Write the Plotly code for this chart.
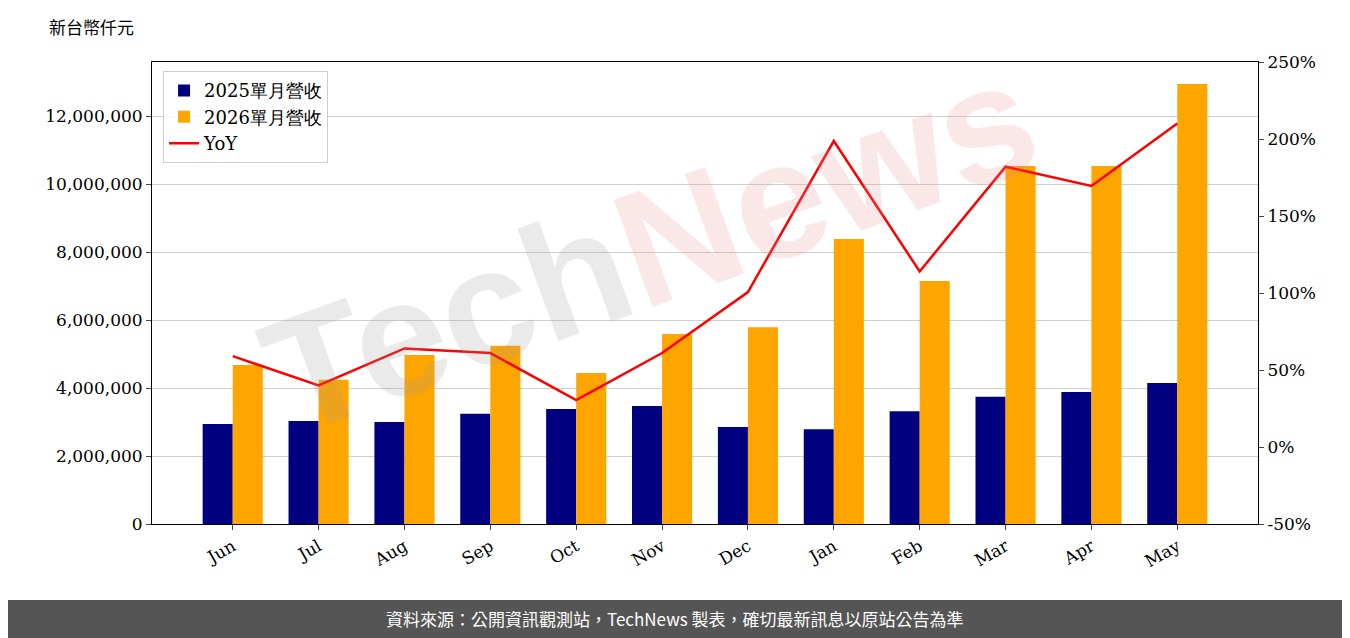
import plotly.graph_objects as go

months = ["Jun", "Jul", "Aug", "Sep", "Oct", "Nov", "Dec", "Jan", "Feb", "Mar", "Apr", "May"]
rev_2025 = [2940000, 3030000, 3000000, 3240000, 3380000, 3470000, 2850000, 2790000, 3320000, 3740000, 3880000, 4150000]
rev_2026 = [4680000, 4240000, 4970000, 5240000, 4440000, 5590000, 5790000, 8380000, 7150000, 10530000, 10530000, 12940000]
yoy = [59, 40, 64, 61, 30.5, 61, 100.6, 198.7, 114, 182, 169.5, 210]
yoy_ticks = [-50, 0, 50, 100, 150, 200, 250]

serif = "DejaVu Serif"

fig = go.Figure()
fig.add_trace(go.Bar(x=months, y=rev_2025, name="2025單月營收", marker_color="#000080", marker_line_width=0))
fig.add_trace(go.Bar(x=months, y=rev_2026, name="2026單月營收", marker_color="#FFA500", marker_line_width=0))
fig.add_trace(go.Scatter(x=months, y=yoy, name="YoY", mode="lines",
                         line=dict(color="#FF0000", width=2.5), yaxis="y2"))

# page body has an 8px margin, so shrink the figure to land on the same pixels
fig.update_layout(
    width=1342, height=630,
    margin=dict(l=144, r=92, t=54, b=114),
    plot_bgcolor="white", paper_bgcolor="white",
    font=dict(family=serif, size=17, color="black"),
    barmode="group", bargap=0.3, bargroupgap=0,
    showlegend=True,
    legend=dict(x=0.01, y=0.98, xanchor="left", yanchor="top", tracegroupgap=4,
                bordercolor="#cccccc", borderwidth=1, bgcolor="rgba(255,255,255,0.8)",
                font=dict(family=serif, size=18)),
    xaxis=dict(tickangle=-30, ticks="outside", ticklen=5, showline=True, linecolor="black",
               mirror=True, showgrid=False, range=[-0.94, 11.94]),
    yaxis=dict(range=[0, 13590000], tickvals=list(range(0, 12000001, 2000000)),
               tickformat=",d", ticks="outside", ticklen=5, showline=True, linecolor="black",
               mirror=True, gridcolor="#d0d0d0", zeroline=False),
    yaxis2=dict(overlaying="y", side="right", range=[-50, 250],
                tickvals=yoy_ticks, ticktext=[f"{v}%" for v in yoy_ticks],
                ticks="outside", ticklen=5, showgrid=False, zeroline=False),
)

fig.add_annotation(text="新台幣仟元", xref="paper", yref="paper", x=-0.095, y=1.076,
                   xanchor="left", yanchor="middle", showarrow=False,
                   font=dict(family="Noto Sans CJK TC", size=17))

fig.add_annotation(text="<b><span style='color:#999999'>Tech</span><span style='color:#e88a8a'>News</span></b>",
                   xref="paper", yref="paper", x=0.45, y=0.6, showarrow=False,
                   textangle=-20, opacity=0.2, font=dict(family="Liberation Sans", size=165))

fig.add_shape(type="rect", xref="paper", yref="paper", x0=-0.2, x1=1.1,
              y0=-0.3, y1=-0.1645, fillcolor="#555555", line_width=0, layer="below")
fig.add_annotation(text="資料來源：公開資訊觀測站，TechNews 製表，確切最新訊息以原站公告為準",
                   xref="paper", yref="paper", x=(667 - 144) / 1106, y=-0.2056,
                   xanchor="center", yanchor="middle",
                   showarrow=False, font=dict(family="Noto Sans CJK TC", size=17, color="white"))

fig.write_html("out.html")
